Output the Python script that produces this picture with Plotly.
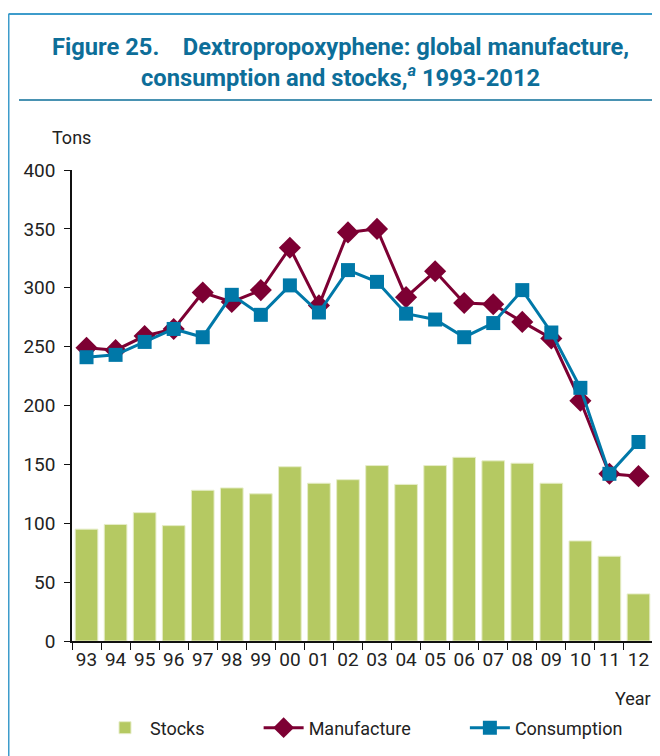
import plotly.graph_objects as go

years = ["93", "94", "95", "96", "97", "98", "99", "00", "01", "02",
         "03", "04", "05", "06", "07", "08", "09", "10", "11", "12"]
stocks = [95, 99, 109, 98, 128, 130, 125, 148, 134, 137,
          149, 133, 149, 156, 153, 151, 134, 85, 72, 40]
manufacture = [249, 247, 259, 265, 296, 288, 298, 334, 285, 347,
               350, 292, 314, 287, 286, 271, 257, 204, 142, 140]
consumption = [241, 243, 254, 265, 258, 294, 277, 302, 279, 315,
               305, 278, 273, 258, 270, 298, 262, 215, 142, 169]

FONT = "Roboto, Liberation Sans, sans-serif"
GREEN = "#b5c962"
MAROON = "#7d0033"
BLUE = "#0078a8"
TITLE = "#0d6e99"
FRAME = "#3d9ccb"
NB = "\u00a0"

fig = go.Figure()
fig.add_trace(go.Bar(x=years, y=stocks, name="Stocks" + NB * 11,
                     marker=dict(color=GREEN, line=dict(color="#e6edc8", width=1))))
fig.add_trace(go.Scatter(x=years, y=manufacture, name="Manufacture" + NB * 11, mode="lines+markers",
                         line=dict(color=MAROON, width=3),
                         marker=dict(symbol="diamond", size=17, color=MAROON)))
fig.add_trace(go.Scatter(x=years, y=consumption, name="Consumption", mode="lines+markers",
                         line=dict(color=BLUE, width=3),
                         marker=dict(symbol="square", size=14, color=BLUE)))

# page is offset by the 8px body margin; work in screen coordinates
OFF = 8
W, H = 652, 748
L, R, T, B = 72 - OFF, W - (653 - OFF), 170 - OFF, H - (641 - OFF)
pw = W - L - R
ph = H - T - B

def px(x):  # screen x -> paper
    return (x - OFF - L) / pw

def py(y):  # screen y -> paper
    return (H - B - (y - OFF)) / ph

fig.update_layout(
    width=W, height=H,
    margin=dict(l=L, r=R, t=T, b=B, autoexpand=False),
    plot_bgcolor="white", paper_bgcolor="white",
    bargap=0.22,
    font=dict(family=FONT, size=18, color="#222222"),
    showlegend=True,
    legend=dict(orientation="h", x=px(100), xanchor="left", y=py(728), yanchor="middle",
                font=dict(size=18, color="#222222"), itemwidth=40, traceorder="normal"),
    xaxis=dict(type="category", range=[-0.5, 19.5], showline=True, linecolor="#111111", linewidth=1.5,
               ticks="outside", tickson="boundaries", ticklen=7, tickcolor="#111111",
               tickfont=dict(size=19), tickangle=0, showgrid=False, automargin=False),
    yaxis=dict(range=[0, 400], dtick=50, showline=True, linecolor="#111111", linewidth=1.5,
               ticks="outside", ticklen=6, tickcolor="#111111", tickfont=dict(size=19),
               ticklabelstandoff=5,
               showgrid=False, zeroline=False, automargin=False),
)

shapes = [
    dict(type="line", xref="paper", yref="paper", x0=px(8.5), x1=px(670), y0=py(14), y1=py(14),
         line=dict(color=FRAME, width=2)),
    dict(type="line", xref="paper", yref="paper", x0=px(8.5), x1=px(8.5), y0=py(14), y1=py(770),
         line=dict(color=FRAME, width=2)),
    dict(type="line", xref="paper", yref="paper", x0=px(19), x1=px(670), y0=py(100), y1=py(100),
         line=dict(color=TITLE, width=1.3)),
]
fig.update_layout(shapes=shapes)

fig.add_annotation(xref="paper", yref="paper", x=px(340), y=py(62.5), xanchor="center", yanchor="middle",
                   text="<b>Figure 25.\u00a0\u00a0\u00a0 Dextropropoxyphene: global manufacture,<br>consumption and stocks,<sup><i>a</i></sup> 1993-2012</b>",
                   showarrow=False, font=dict(family=FONT, size=23.7, color=TITLE), align="center")
fig.add_annotation(xref="paper", yref="paper", x=px(50), y=py(137), xanchor="left", yanchor="middle",
                   text="Tons", showarrow=False, font=dict(size=18))
fig.add_annotation(xref="paper", yref="paper", x=px(653), y=py(698), xanchor="right", yanchor="middle",
                   text="Year", showarrow=False, font=dict(size=18))

fig.write_html("out.html")
